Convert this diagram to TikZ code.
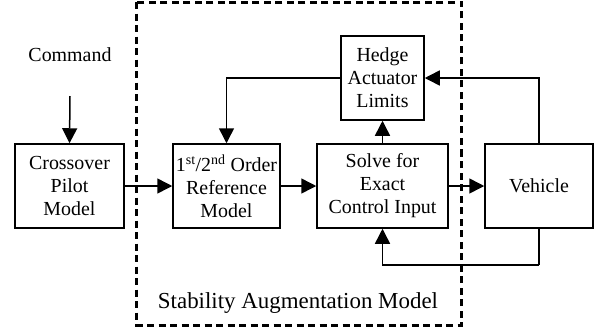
\documentclass[tikz,border=0pt]{standalone}
\usepackage{fontspec}
\setmainfont{Liberation Serif}
\usetikzlibrary{arrows.meta}
\begin{document}
\begin{tikzpicture}[x=1bp,y=-1bp,
  blk/.style={draw,line width=1.5bp,inner sep=0pt,font=\fontsize{20}{23}\selectfont,align=center},
  conn/.style={line width=1.5bp,-{Triangle[length=15bp,width=15bp]}},
  plain/.style={line width=1.5bp}]
\useasboundingbox (0,0) rectangle (595,328);
\draw[line width=3bp,dash pattern=on 7bp off 4.5bp] (136.5,2) rectangle (461.5,325);
\node[blk,minimum width=109bp,minimum height=84bp] (cp) at (69.5,186) {Crossover\\Pilot\\Model};
\node[blk,minimum width=107bp,minimum height=84bp] (ref) at (226.5,186) {1\textsuperscript{st}/2\textsuperscript{nd} Order\\Reference\\Model};
\node[blk,minimum width=131bp,minimum height=84bp] (sol) at (382.5,186) {Solve for\\Exact\\Control Input};
\node[blk,minimum width=83bp,minimum height=84bp] (hed) at (382.5,78) {Hedge\\Actuator\\Limits};
\node[blk,minimum width=108bp,minimum height=84bp] (veh) at (539,186) {Vehicle};
\node[font=\fontsize{20}{23}\selectfont] (cmd) at (70,55) {Command};
\node[font=\fontsize{23}{26}\selectfont] (sam) at (298,303) {Stability Augmentation Model};
\coordinate (cmdend) at (70,96);
\draw[conn] (cmdend) -- (cp.north);
\draw[conn] (cp.east) -- (ref.west);
\draw[conn] (ref.east) -- (sol.west);
\draw[conn] (sol.east) -- (veh.west);
\draw[conn] (sol.north) -- (hed.south);
\draw[conn] (hed.west) -| (ref.north);
\draw[conn] (veh.north) |- (hed.east);
\coordinate (bot) at (539,265);
\draw[plain] (veh.south) -- (bot);
\draw[conn] (bot) -| (sol.south);
\end{tikzpicture}
\end{document}
